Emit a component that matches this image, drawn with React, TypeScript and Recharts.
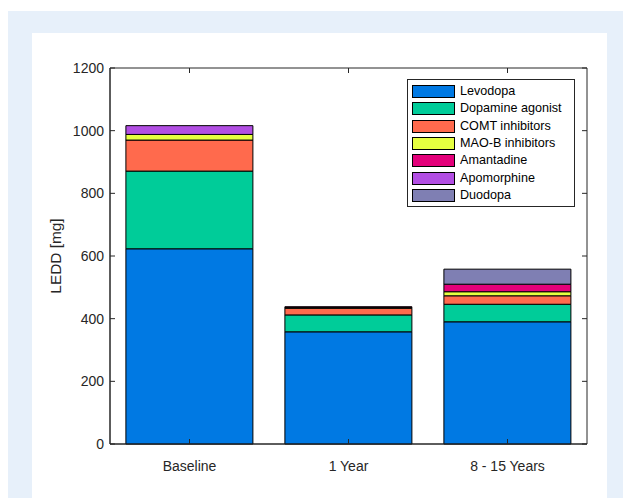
import React from 'react';
import { BarChart, Bar, XAxis, YAxis, Legend, Label, ReferenceArea } from 'recharts';

const categories = ['Baseline', '1 Year', '8 - 15 Years'];
const levodopa = [623, 358, 390];
const dopamineAgonist = [248, 54, 56];
const comtInhibitors = [99, 21, 27];
const maobInhibitors = [18, 3, 13];
const amantadine = [0, 2, 24];
const apomorphine = [28, 0, 0];
const duodopa = [0, 0, 48];
const yTicks = [0, 200, 400, 600, 800, 1000, 1200];

const seriesNames = ['Levodopa', 'Dopamine agonist', 'COMT inhibitors', 'MAO-B inhibitors', 'Amantadine', 'Apomorphine', 'Duodopa'];
const seriesValues = [levodopa, dopamineAgonist, comtInhibitors, maobInhibitors, amantadine, apomorphine, duodopa];
const seriesColors = ['#0079e3', '#00cc99', '#ff6a4d', '#e6ff40', '#e3007a', '#b24ee3', '#7f7fb3'];

const data = categories.map((name, i) => {
  const row: Record<string, string | number> = { name };
  seriesNames.forEach((s, k) => {
    row[s] = seriesValues[k][i];
  });
  return row;
});

const W = 623;
const H = 498;
const PLOT_LEFT = 110;
const PLOT_RIGHT = 587;
const PLOT_TOP = 68;
const PLOT_BOTTOM = 444;
const INK = '#262626';
const FONT = '"Liberation Sans", Arial, Helvetica, sans-serif';

const YTick = (props: any) => {
  const { x, y, payload } = props;
  return (
    <g>
      <text x={x} y={y} dy="0.36em" textAnchor="end" fontSize={14} fill={INK} fontFamily={FONT}>
        {payload.value}
      </text>
      <line x1={PLOT_LEFT} x2={PLOT_LEFT + 5} y1={y} y2={y} stroke={INK} strokeWidth={1} />
      <line x1={PLOT_RIGHT - 5} x2={PLOT_RIGHT} y1={y} y2={y} stroke={INK} strokeWidth={1} />
    </g>
  );
};

const XTick = (props: any) => {
  const { x, y, payload } = props;
  return (
    <g>
      <text x={x} y={y} dy="0.71em" textAnchor="middle" fontSize={14} fill={INK} fontFamily={FONT}>
        {payload.value}
      </text>
      <line x1={x} x2={x} y1={PLOT_BOTTOM - 5} y2={PLOT_BOTTOM} stroke={INK} strokeWidth={1} />
      <line x1={x} x2={x} y1={PLOT_TOP} y2={PLOT_TOP + 5} stroke={INK} strokeWidth={1} />
    </g>
  );
};

const LegendBox = () => (
  <div
    style={{
      border: `1px solid ${INK}`,
      background: '#fff',
      width: 166,
      padding: '3px 0 2px 0',
      boxSizing: 'content-box',
      fontFamily: FONT,
      fontSize: 12.6,
      color: '#000',
    }}
  >
    {seriesNames.map((s, k) => (
      <div key={s} style={{ display: 'flex', alignItems: 'center', height: 17.3 }}>
        <div
          style={{
            width: 41,
            height: 11,
            marginLeft: 4,
            marginRight: 5,
            background: seriesColors[k],
            border: '1px solid #000',
          }}
        />
        <span style={{ lineHeight: '17px', whiteSpace: 'nowrap' }}>{s}</span>
      </div>
    ))}
  </div>
);

export default function App() {
  return (
    <div style={{ position: 'absolute', left: 0, top: 0, width: W, height: H, background: '#fff', overflow: 'hidden' }}>
      <div style={{ position: 'absolute', left: 8, top: 11, width: W - 8, height: H - 11, background: '#e7f0fa' }} />
      <div style={{ position: 'absolute', left: 32, top: 33, width: 575, height: H - 33, background: '#fff' }} />
      <div style={{ position: 'absolute', left: 0, top: 0 }}>
        <BarChart
          width={W}
          height={H}
          data={data}
          margin={{ top: PLOT_TOP, right: W - PLOT_RIGHT, bottom: 0, left: 0 }}
          barCategoryGap="10%"
        >
          <XAxis
            dataKey="name"
            tick={<XTick />}
            tickLine={false}
            tickSize={0}
            tickMargin={17}
            axisLine={{ stroke: INK, strokeWidth: 1 }}
            height={H - PLOT_BOTTOM}
            interval={0}
          />
          <YAxis
            domain={[0, 1200]}
            ticks={yTicks}
            tick={<YTick />}
            tickLine={false}
            tickSize={0}
            tickMargin={6}
            axisLine={{ stroke: INK, strokeWidth: 1 }}
            width={PLOT_LEFT}
            interval={0}
          >
            <Label
              content={(p: any) => {
                const vb = p.viewBox || {};
                const cy = (vb.y ?? PLOT_TOP) + (vb.height ?? PLOT_BOTTOM - PLOT_TOP) / 2;
                const cx = 61;
                return (
                  <text
                    x={cx}
                    y={cy}
                    transform={`rotate(-90 ${cx} ${cy})`}
                    textAnchor="middle"
                    fontSize={15.4}
                    fill={INK}
                    fontFamily={FONT}
                  >
                    LEDD [mg]
                  </text>
                );
              }}
            />
          </YAxis>
          <Legend
            layout="vertical"
            align="center"
            verticalAlign="middle"
            content={() => <LegendBox />}
            wrapperStyle={{ position: 'absolute', left: 407, top: 79, width: 168, height: 'auto' }}
          />
          {seriesNames.map((s, k) => (
            <Bar
              key={s}
              dataKey={s}
              stackId="a"
              fill={seriesColors[k]}
              stroke="#000"
              strokeWidth={1}
              isAnimationActive={false}
            />
          ))}
          <ReferenceArea y1={0} y2={1200} fill="none" fillOpacity={0} stroke={INK} strokeWidth={1} ifOverflow="visible" />
        </BarChart>
      </div>
    </div>
  );
}
